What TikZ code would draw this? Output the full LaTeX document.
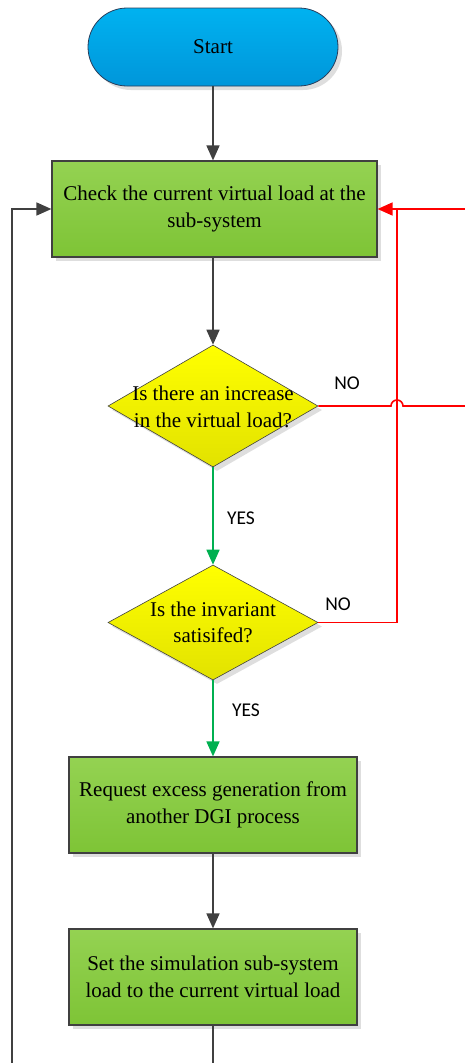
\documentclass[tikz,border=0pt]{standalone}
\usepackage{fontspec}
\setmainfont{Liberation Serif}
\newfontfamily\lblfont{Carlito}
\usetikzlibrary{shapes.geometric,arrows.meta,shadows}

\definecolor{boxgreentop}{RGB}{148,210,82}
\definecolor{boxgreenbot}{RGB}{126,196,54}
\definecolor{qyellowtop}{RGB}{255,255,0}
\definecolor{qyellowbot}{RGB}{226,226,0}
\definecolor{startbluetop}{RGB}{0,178,240}
\definecolor{startbluebot}{RGB}{0,150,218}
\definecolor{startedge}{RGB}{40,62,92}
\definecolor{edgegray}{RGB}{64,64,64}
\definecolor{yesgreen}{RGB}{0,176,80}
\definecolor{nored}{RGB}{255,0,0}

\tikzset{
  flowtext/.style={font=\fontsize{21}{26.5}\selectfont, align=center, text=black},
  boxshadow/.style={drop shadow={fill=black!13, opacity=1, shadow xshift=4pt, shadow yshift=-4pt}},
  startbox/.style={flowtext, boxshadow, rectangle, rounded corners=39pt, draw=startedge, line width=0.8pt,
    top color=startbluetop, bottom color=startbluebot, minimum width=250pt, minimum height=78pt},
  stepbox/.style={flowtext, boxshadow, rectangle, draw=edgegray, line width=1.2pt,
    top color=boxgreentop, bottom color=boxgreenbot, minimum height=96pt},
  querybox/.style={flowtext, boxshadow, diamond, draw=edgegray, line width=0.6pt, inner sep=0pt,
    top color=qyellowtop, bottom color=qyellowbot, minimum width=210pt},
  flowarrow/.style={draw=edgegray, line width=1.6pt, -{Triangle[length=15pt,width=13pt]}},
  yesarrow/.style={flowarrow, draw=yesgreen, -{Triangle[length=15pt,width=13pt,fill=yesgreen]}},
  noline/.style={draw=nored, line width=1.6pt},
  branchlabel/.style={font=\lblfont\fontsize{19.5}{22}\selectfont}
}

\begin{document}
\begin{tikzpicture}[x=1pt, y=-1pt]
\useasboundingbox (0,0) rectangle (465,1063);

% the steps
\node[startbox] (start) at (213,47) {Start};
\node[stepbox, minimum width=325pt] (check) at (214.5,209) {Check the current virtual load at the\\sub-system};
\node[querybox, minimum height=122pt] (q1) at (213,406)
  {\makebox[0pt]{\raisebox{-8pt}[0pt][0pt]{\begin{tabular}{@{}c@{}}Is there an increase\\in the virtual load?\end{tabular}}}};
\node[querybox, minimum height=115pt] (q2) at (213,622.5)
  {\makebox[0pt]{\raisebox{-7pt}[0pt][0pt]{\begin{tabular}{@{}c@{}}Is the invariant\\satisifed?\end{tabular}}}};
\node[stepbox, minimum width=288pt] (req) at (213,805) {Request excess generation from\\another DGI process};
\node[stepbox, minimum width=288pt] (set) at (213,977) {Set the simulation sub-system\\load to the current virtual load};

% free ends of the loops
\coordinate (loopdown) at (213,1065);
\coordinate (loopleft) at (12,209);
\coordinate (hopin) at (391,406);
\coordinate (outright) at (472,406);
\coordinate (backright) at (472,209);
\coordinate (joint) at (397,209);

% main flow
\draw[flowarrow] (start.south) -- (start.south |- check.north);
\draw[flowarrow] (check.south -| q1.north) -- (q1.north);
\draw[yesarrow] (q1.south) -- (q2.north);
\draw[yesarrow] (q2.south) -- (req.north);
\draw[flowarrow] (req.south) -- (set.north);
\draw[flowarrow] (set.south) -- (loopdown) -| (loopleft) -- (check.west);

% NO branches
\draw[noline] (q2.east) -| (joint);
\draw[noline, -{Triangle[length=15pt,width=13pt]}] (q1.east) -- (hopin)
  arc[start angle=180, end angle=0, radius=6pt] -- (outright) -- (backright) -- (check.east);

% branch labels
\node[branchlabel] (no1) at (347,383) {NO};
\node[branchlabel] (yes1) at (241,518) {YES};
\node[branchlabel] (no2) at (338,604) {NO};
\node[branchlabel] (yes2) at (246,710) {YES};
\end{tikzpicture}
\end{document}
